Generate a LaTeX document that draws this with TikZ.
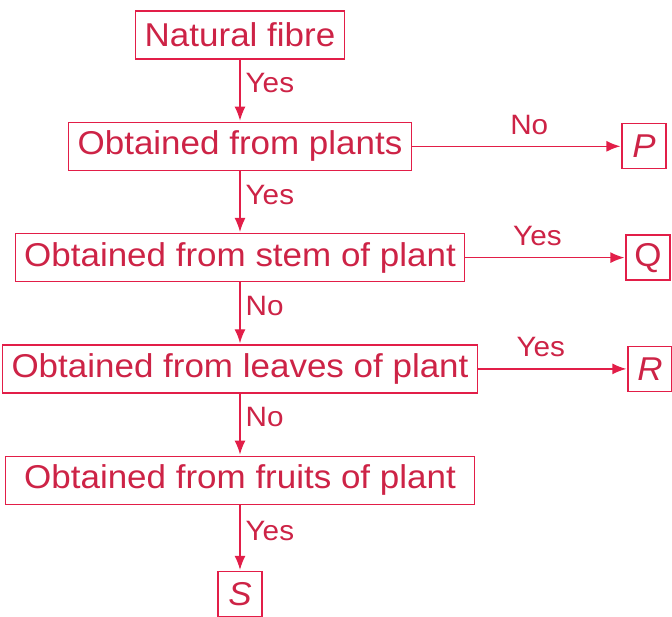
\documentclass[tikz,border=0pt]{standalone}
\usepackage{fontspec}
\setmainfont{Liberation Sans}[FakeStretch=1.06]
\usetikzlibrary{arrows.meta,positioning}
\definecolor{fibrered}{RGB}{226,30,72}
\definecolor{fibretext}{RGB}{205,35,70}

\begin{document}
\begin{tikzpicture}[x=1pt,y=-1pt,shorten >=1pt,auto,node distance=62pt,line width=1.3pt,
  stage/.style={rectangle,draw=fibrered,text=fibretext,minimum height=48pt,inner xsep=9pt,font=\fontsize{33}{36}\selectfont},
  letter/.style={stage,minimum width=44pt,minimum height=45pt,inner xsep=0pt},
  choice/.style={text=fibretext,inner sep=5pt,font=\fontsize{28}{30}\selectfont},
  over/.style={yshift=6pt}]
\useasboundingbox (0,0) rectangle (672,616);

			\node[stage] (natural) at (240,35) {Natural fibre};
			\node[stage] (plants) [below=of natural] {Obtained from plants};
			\node[stage] (stem) [below=of plants] {Obtained from stem of plant};
			\node[stage] (leaves) [below=of stem] {Obtained from leaves of plant};
			\node[stage,minimum width=469pt] (fruits) [below=of leaves] {Obtained from fruits of plant};
			\node[letter] (S) [below=66pt of fruits] {\textit{S}};

			\node[letter] (P) at (644,0 |- plants) {\textit{P}};
			\node[letter] (Q) at (648,0 |- stem) {Q};
			\node[letter] (R) at (650,0 |- leaves) {\textit{R}};

			\path[color=fibrered,-{Latex[length=14pt,width=11pt]},every node/.style=choice]
			(natural) edge node[pos=0.38] {Yes} (plants)
			(plants) edge node[pos=0.38] {Yes} (stem)
				edge node[pos=0.56,over] {No} (P)
			(stem) edge node[pos=0.45,over] {Yes} (Q)
				edge node[pos=0.38] {No} (leaves)
			(leaves) edge node[pos=0.38] {No} (fruits)
				edge node[pos=0.42,over] {Yes} (R)
			(fruits) edge node[pos=0.4] {Yes} (S);
		\end{tikzpicture}
\end{document}
